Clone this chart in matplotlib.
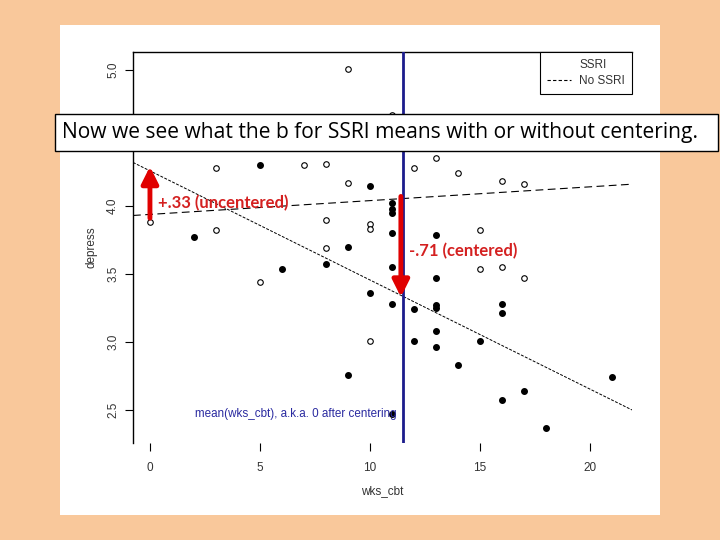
import matplotlib
matplotlib.use("Agg")
import matplotlib.pyplot as plt
from matplotlib.lines import Line2D
from matplotlib.patches import Rectangle

# open circles: No SSRI
nossri_x = [9, 3, 7, 8, 9, 0, 3, 8, 10, 10, 11, 12, 13, 14, 16, 17, 15, 8, 5, 10, 15, 16, 17]
nossri_y = [5.01, 4.28, 4.30, 4.31, 4.17, 3.88, 3.82, 3.90, 3.87, 3.83, 4.67, 4.28, 4.35, 4.24,
            4.18, 4.16, 3.82, 3.69, 3.44, 3.01, 3.54, 3.55, 3.47]
# filled dots: SSRI
ssri_x = [5, 10, 2, 9, 6, 8, 10, 9, 11, 11, 11, 11, 13, 11, 13, 11, 12, 13, 13, 16, 16,
          13, 12, 15, 13, 14, 21, 17, 16, 18, 11]
ssri_y = [4.30, 4.15, 3.77, 3.70, 3.54, 3.57, 3.36, 2.76, 4.02, 3.98, 3.95, 3.80, 3.79, 3.55,
          3.47, 3.28, 3.24, 3.27, 3.25, 3.28, 3.21, 3.08, 3.01, 3.01, 2.96, 2.83, 2.74, 2.64,
          2.57, 2.37, 2.47]

# fitted lines (endpoints at the axis limits)
line_x = [-0.77, 21.9]
ssri_fit = [4.32, 2.50]
nossri_fit = [3.93, 4.16]
mean_cbt = 11.5

fig = plt.figure(figsize=(7.2, 5.4), dpi=100)
fig.patch.set_facecolor("#F9C89B")
fig.add_artist(Rectangle((60 / 720, 1 - 515 / 540), 600 / 720, 490 / 540,
                         transform=fig.transFigure, facecolor="white", edgecolor="none",
                         zorder=-10))

ax = fig.add_axes([133 / 720, 1 - 443 / 540, 499 / 720, 391 / 540])
ax.set_facecolor("white")
ax.set_xlim(-0.77, 21.9)
ax.set_ylim(2.257, 5.132)

for s in ["right", "bottom"]:
    ax.spines[s].set_visible(False)
for s in ["top", "left"]:
    ax.spines[s].set_linewidth(1.0)

rfont = "Liberation Sans"
ax.set_xticks([0, 5, 10, 15, 20])
ax.set_xticklabels(["0", "5", "10", "15", "20"], fontsize=8.5, family=rfont, color="#333333")
ax.set_yticks([2.5, 3.0, 3.5, 4.0, 4.5, 5.0])
ax.set_yticklabels(["2.5", "3.0", "3.5", "4.0", "4.5", "5.0"], fontsize=8.5, family=rfont,
                   color="#333333", rotation=90, va="center")
ax.tick_params(axis="x", length=6, pad=8)
ax.tick_params(axis="y", length=6, pad=4)
ax.set_xlabel("wks_cbt", fontsize=8.5, family=rfont, color="#333333", labelpad=8)
ax.set_ylabel("depress", fontsize=8.5, family=rfont, color="#333333", labelpad=7)

ax.plot(nossri_x, nossri_y, "o", ms=4, mfc="white", mec="black", mew=0.8, zorder=3)
ax.plot(ssri_x, ssri_y, "o", ms=4, mfc="black", mec="black", zorder=3)
ax.plot(line_x, ssri_fit, color="black", lw=0.7, ls=(0, (3, 1.5)))
ax.plot(line_x, nossri_fit, color="black", lw=0.8, ls=(0, (7, 4)))

ax.axvline(mean_cbt, color="#1c1c8c", lw=2, zorder=4)
ax.text(mean_cbt - 0.3, 2.47, "mean(wks_cbt), a.k.a. 0 after centering", ha="right", va="center",
        fontsize=8.4, family=rfont, color="#2a2aa0")

leg = ax.legend([Line2D([], [], color="white", lw=0),
                 Line2D([], [], color="black", lw=0.8, ls=(0, (3, 2)))],
                ["SSRI", "No SSRI"], loc="upper right", bbox_to_anchor=(1.0, 1.0),
                borderaxespad=0, fancybox=False, edgecolor="black", framealpha=1,
                prop={"family": rfont, "size": 8.5}, handlelength=2.0, handletextpad=0.7,
                borderpad=0.6, labelspacing=0.35)
leg.get_frame().set_linewidth(0.8)
for t in leg.get_texts():
    t.set_color("#333333")

red = "#E00000"
ax.annotate("", xy=(0, 4.29), xytext=(0, 3.91),
            arrowprops=dict(arrowstyle="-|>,head_width=0.5,head_length=1.0", lw=3.5,
                            color=red, shrinkA=0, shrinkB=0), zorder=5)
ax.text(0.35, 4.02, "+.33 (uncentered)", fontsize=12, family="Lato", weight="bold",
        color="#D42020", va="center", ha="left", zorder=5)
ax.annotate("", xy=(mean_cbt - 0.1, 3.33), xytext=(mean_cbt - 0.1, 4.07),
            arrowprops=dict(arrowstyle="-|>,head_width=0.5,head_length=1.0", lw=3.5,
                            color=red, shrinkA=0, shrinkB=0), zorder=5)
ax.text(mean_cbt + 0.25, 3.67, "-.71 (centered)", fontsize=12, family="Lato", weight="bold",
        color="#D42020", va="center", ha="left", zorder=5)

# callout box over the plot
fig.add_artist(Rectangle((55 / 720, 1 - 151 / 540), 663 / 720, 37 / 540,
                         transform=fig.transFigure, facecolor="white", edgecolor="black", lw=1.0,
                         zorder=10))
fig.text(62 / 720, 1 - 133 / 540, "Now we see what the b for SSRI means with or without centering.",
         fontsize=15.1, family="Open Sans", color="black", ha="left", va="center", zorder=11)

fig.savefig("out.png", dpi=100)
